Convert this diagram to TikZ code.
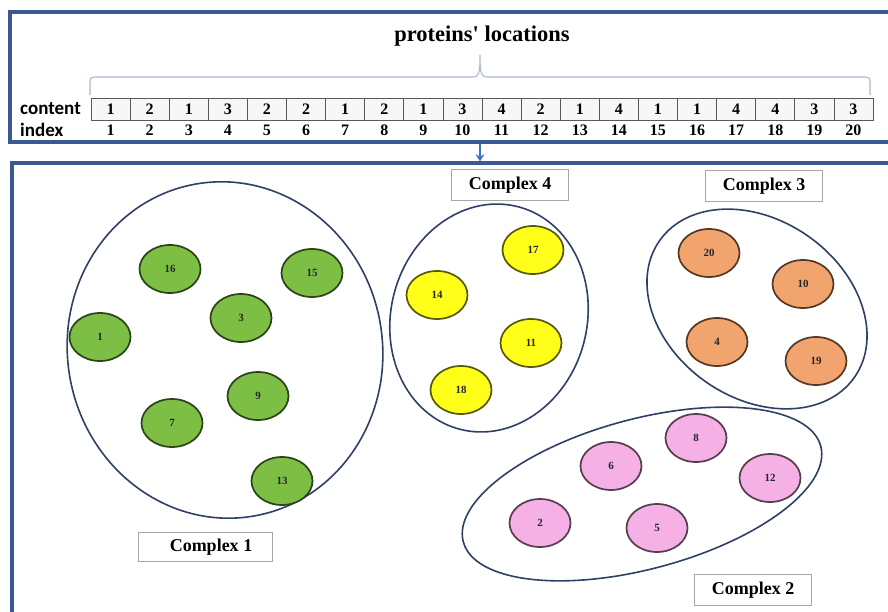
\documentclass[tikz,border=0pt]{standalone}
\usepackage{fontspec}
\setmainfont{Liberation Serif}
\newfontfamily\rowfont{Carlito}
\usetikzlibrary{positioning,shapes.geometric,arrows.meta}
\definecolor{framec}{HTML}{3A5894}
\definecolor{ringc}{HTML}{2F3F66}
\definecolor{bracec}{HTML}{A8B8D0}
\definecolor{arrowc}{HTML}{3F72BE}
\definecolor{greenc}{HTML}{7DBF45}
\definecolor{yellowc}{HTML}{FFFF1A}
\definecolor{orangec}{HTML}{F2A46E}
\definecolor{pinkc}{HTML}{F5B0E6}

\begin{document}
\begin{tikzpicture}[x=1pt,y=-1pt,
        frame/.style={draw=framec,line width=3.4pt,inner sep=0pt},
        cell/.style={draw=gray!70!black,fill=gray!6,line width=0.8pt,minimum width=39.1pt,
          minimum height=22pt,inner sep=0pt,font=\fontsize{16}{16}\selectfont\bfseries},
        idx/.style={inner sep=0pt,font=\fontsize{16}{16}\selectfont\bfseries},
        rowname/.style={anchor=west,inner sep=0pt,font=\rowfont\fontsize{19}{19}\selectfont\bfseries},
        complex/.style={draw=ringc,ellipse,line width=1.6pt,inner sep=0pt},
        protein/.style={ellipse,draw=#1!35!black,fill=#1,line width=1.7pt,minimum width=61pt,
          minimum height=48pt,inner sep=0pt,text=black!85,font=\fontsize{11}{11}\selectfont\bfseries},
        tag/.style={draw=gray!70,line width=1pt,minimum width=117pt,minimum height=31pt,
          inner sep=0pt,font=\fontsize{18}{18}\selectfont\bfseries}]
        \useasboundingbox (0,0) rectangle (888,612);
        \fill[white] (0,0) rectangle (888,612);
        \clip (0,0) rectangle (888,612);
        % frames
        \node[frame,minimum width=890pt,minimum height=130pt] (top) at (455,77) {};
        \node[frame,minimum width=888pt,minimum height=477pt] (bottom) at (456,401.5) {};
        \node[font=\fontsize{22.5}{22.5}\selectfont\bfseries] (title) at (482,36) {proteins\textquotesingle\ locations};
        \coordinate (tip) at (480,55);
        \draw[bracec,line width=1.1pt] (90,95) -- (90,83) .. controls (90,78) .. (95,77) -- (472,77)
          .. controls (479,77) and (480,74) .. (tip) .. controls (480,74) and (481,77) .. (488,77)
          -- (865,77) .. controls (870,78) .. (870,83) -- (870,95);
        \node[rowname] (content) at (20,109) {content};
        \node[rowname] (index) at (20,130) {index};
        \foreach \c [count=\i] in {1,2,1,3,2,2,1,2,1,3,4,2,1,4,1,1,4,4,3,3} {
          \node[cell] (c\i) at ({91+39.1*(\i-0.5)},109) {\c};
          \node[idx] (i\i) at ({91+39.1*(\i-0.5)},130) {\i};
        }
        \draw[-{Stealth[length=7pt,width=9pt]},arrowc,line width=2.2pt] (top.south -| tip) -- (bottom.north -| tip);
        % complexes
        \node[complex,minimum width=315pt,minimum height=337pt,rotate=10] (cx1) at (225,350) {};
        \node[complex,minimum width=196pt,minimum height=230pt,rotate=-15] (cx4) at (489,318) {};
        \node[complex,minimum width=238pt,minimum height=178pt,rotate=-35] (cx3) at (757,309) {};
        \node[complex,minimum width=370pt,minimum height=150pt,rotate=15] (cx2) at (642,494) {};
        \node[tag,minimum width=134pt,minimum height=29pt] (t1) at (205,547) {\hspace*{12pt}Complex 1};
        \node[tag] (t4) at (510,185) {Complex 4};
        \node[tag] (t3) at (764,186) {Complex 3};
        \node[tag] (t2) at (753,590) {Complex 2};
        % proteins
        \node[protein=greenc] (p16) at (170,269) {16};
        \node[protein=greenc] (p15) at (312,273) {15};
        \node[protein=greenc] (p3) at (241,318) {3};
        \node[protein=greenc] (p1) at (100,337) {1};
        \node[protein=greenc] (p9) at (258,396) {9};
        \node[protein=greenc] (p7) at (172,423) {7};
        \node[protein=greenc] (p13) at (282,481) {13};
        \node[protein=yellowc] (p17) at (533,250) {17};
        \node[protein=yellowc] (p14) at (437,295) {14};
        \node[protein=yellowc] (p11) at (531,343) {11};
        \node[protein=yellowc] (p18) at (461,390) {18};
        \node[protein=orangec] (p20) at (709,253) {20};
        \node[protein=orangec] (p10) at (803,284) {10};
        \node[protein=orangec] (p4) at (717,342) {4};
        \node[protein=orangec] (p19) at (816,361) {19};
        \node[protein=pinkc] (p8) at (696,438) {8};
        \node[protein=pinkc] (p6) at (611,466) {6};
        \node[protein=pinkc] (p12) at (770,478) {12};
        \node[protein=pinkc] (p2) at (540,523) {2};
        \node[protein=pinkc] (p5) at (657,528) {5};
    \end{tikzpicture}
\end{document}
